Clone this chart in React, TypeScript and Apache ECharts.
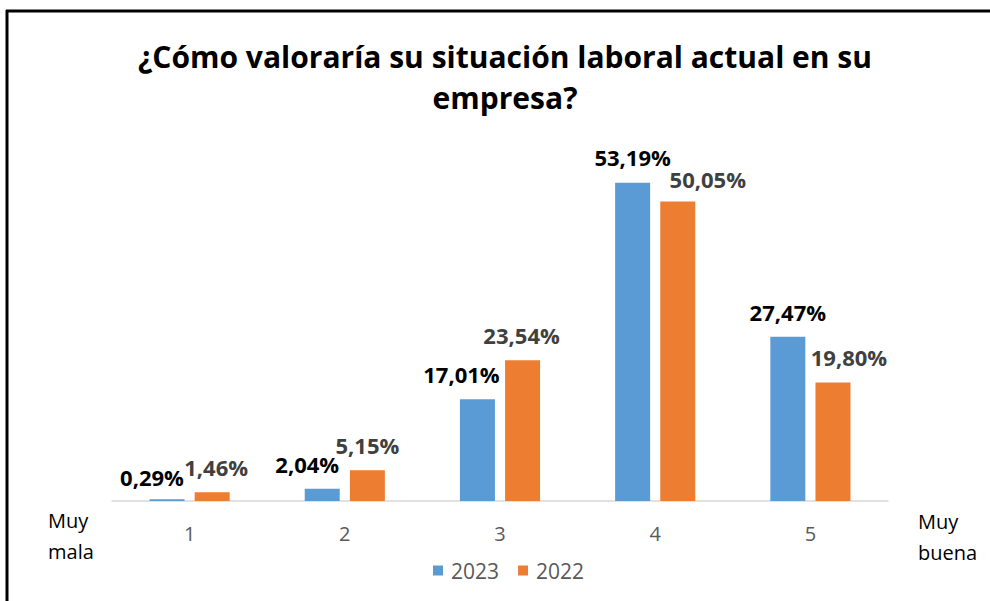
import React, { useEffect, useRef } from 'react';
import * as echarts from 'echarts';

const categories = ['1', '2', '3', '4', '5'];
const seriesNames = ['2023', '2022'];
const values2023 = [0.29, 2.04, 17.01, 53.19, 27.47];
const values2022 = [1.46, 5.15, 23.54, 50.05, 19.8];
const titleText = '¿Cómo valoraría su situación laboral actual en su\nempresa?';
const leftEndLabel = 'Muy\nmala';
const rightEndLabel = 'Muy\nbuena';

// label nudges (px) to mimic the reference's label placement
const labelOffsets2023 = [[-15, 3], [-15, 0], [-16, 0], [0, -1], [0, 0]];
const labelOffsets2022 = [[4, 0], [0, 0], [-1, 0], [30, 2], [16, -1]];

const FONT = "'Open Sans', 'Noto Sans', sans-serif";
const fmt = (v: number) => v.toFixed(2).replace('.', ',') + '%';

export default function App() {
  const ref = useRef<HTMLDivElement>(null);
  useEffect(() => {
    if (!ref.current) return;
    const chart = echarts.init(ref.current, undefined, { renderer: 'svg' });
    const mkData = (vals: number[], offs: number[][]) =>
      vals.map((v, i) => ({ value: v, label: { offset: offs[i] } }));
    const labelStyle = (color: string) => ({
      show: true,
      position: 'top',
      distance: 14,
      fontSize: 22,
      lineHeight: 22,
      fontWeight: 'bold',
      color,
      fontFamily: FONT,
      formatter: (p: any) => fmt(p.value),
    });
    chart.setOption({
      animation: false,
      backgroundColor: '#ffffff',
      textStyle: { fontFamily: FONT },
      grid: { left: 112, right: 102, top: 142, bottom: 100, containLabel: false },
      legend: {
        data: seriesNames,
        left: 433,
        top: 560,
        padding: 0,
        itemWidth: 10,
        itemHeight: 10,
        itemGap: 19,
        icon: 'rect',
        textStyle: { fontSize: 21, color: '#595959', fontFamily: FONT, padding: [0, 0, 0, 3] },
      },
      xAxis: {
        type: 'category',
        data: categories,
        axisLine: { lineStyle: { color: '#D9D9D9', width: 1.5 } },
        axisTick: { show: false },
        axisLabel: { fontSize: 20, color: '#595959', margin: 22, fontFamily: FONT },
      },
      yAxis: {
        type: 'value',
        min: 0,
        max: 60,
        show: false,
        splitLine: { show: false },
      },
      series: [
        {
          name: seriesNames[0],
          type: 'bar',
          data: mkData(values2023, labelOffsets2023),
          barWidth: 35,
          barGap: '29%',
          itemStyle: { color: '#5B9BD5' },
          label: labelStyle('#000000'),
        },
        {
          name: seriesNames[1],
          type: 'bar',
          data: mkData(values2022, labelOffsets2022),
          barWidth: 35,
          barGap: '29%',
          itemStyle: { color: '#ED7D31' },
          label: labelStyle('#404040'),
        },
      ],
      graphic: [
        {
          type: 'text',
          x: 505,
          y: 77,
          style: {
            text: titleText,
            fontSize: 30,
            fontWeight: 'bold',
            fontFamily: FONT,
            fill: '#000000',
            align: 'center',
            verticalAlign: 'middle',
            lineHeight: 41,
          },
        },
        {
          type: 'text',
          x: 48,
          y: 536,
          style: {
            text: leftEndLabel,
            fontSize: 20,
            fontFamily: FONT,
            fill: '#000000',
            align: 'left',
            verticalAlign: 'middle',
            lineHeight: 31,
          },
        },
        {
          type: 'text',
          x: 918,
          y: 537,
          style: {
            text: rightEndLabel,
            fontSize: 20,
            fontFamily: FONT,
            fill: '#000000',
            align: 'left',
            verticalAlign: 'middle',
            lineHeight: 31,
          },
        },
        {
          type: 'line',
          shape: { x1: 7, y1: 10, x2: 7, y2: 601 },
          style: { stroke: '#000000', lineWidth: 3 },
        },
        {
          type: 'line',
          shape: { x1: 6, y1: 11, x2: 990, y2: 11 },
          style: { stroke: '#000000', lineWidth: 3 },
        },
      ],
    });
    return () => chart.dispose();
  }, []);
  return (
    <div
      ref={ref}
      style={{ position: 'absolute', left: 0, top: 0, width: 990, height: 601 }}
    />
  );
}
